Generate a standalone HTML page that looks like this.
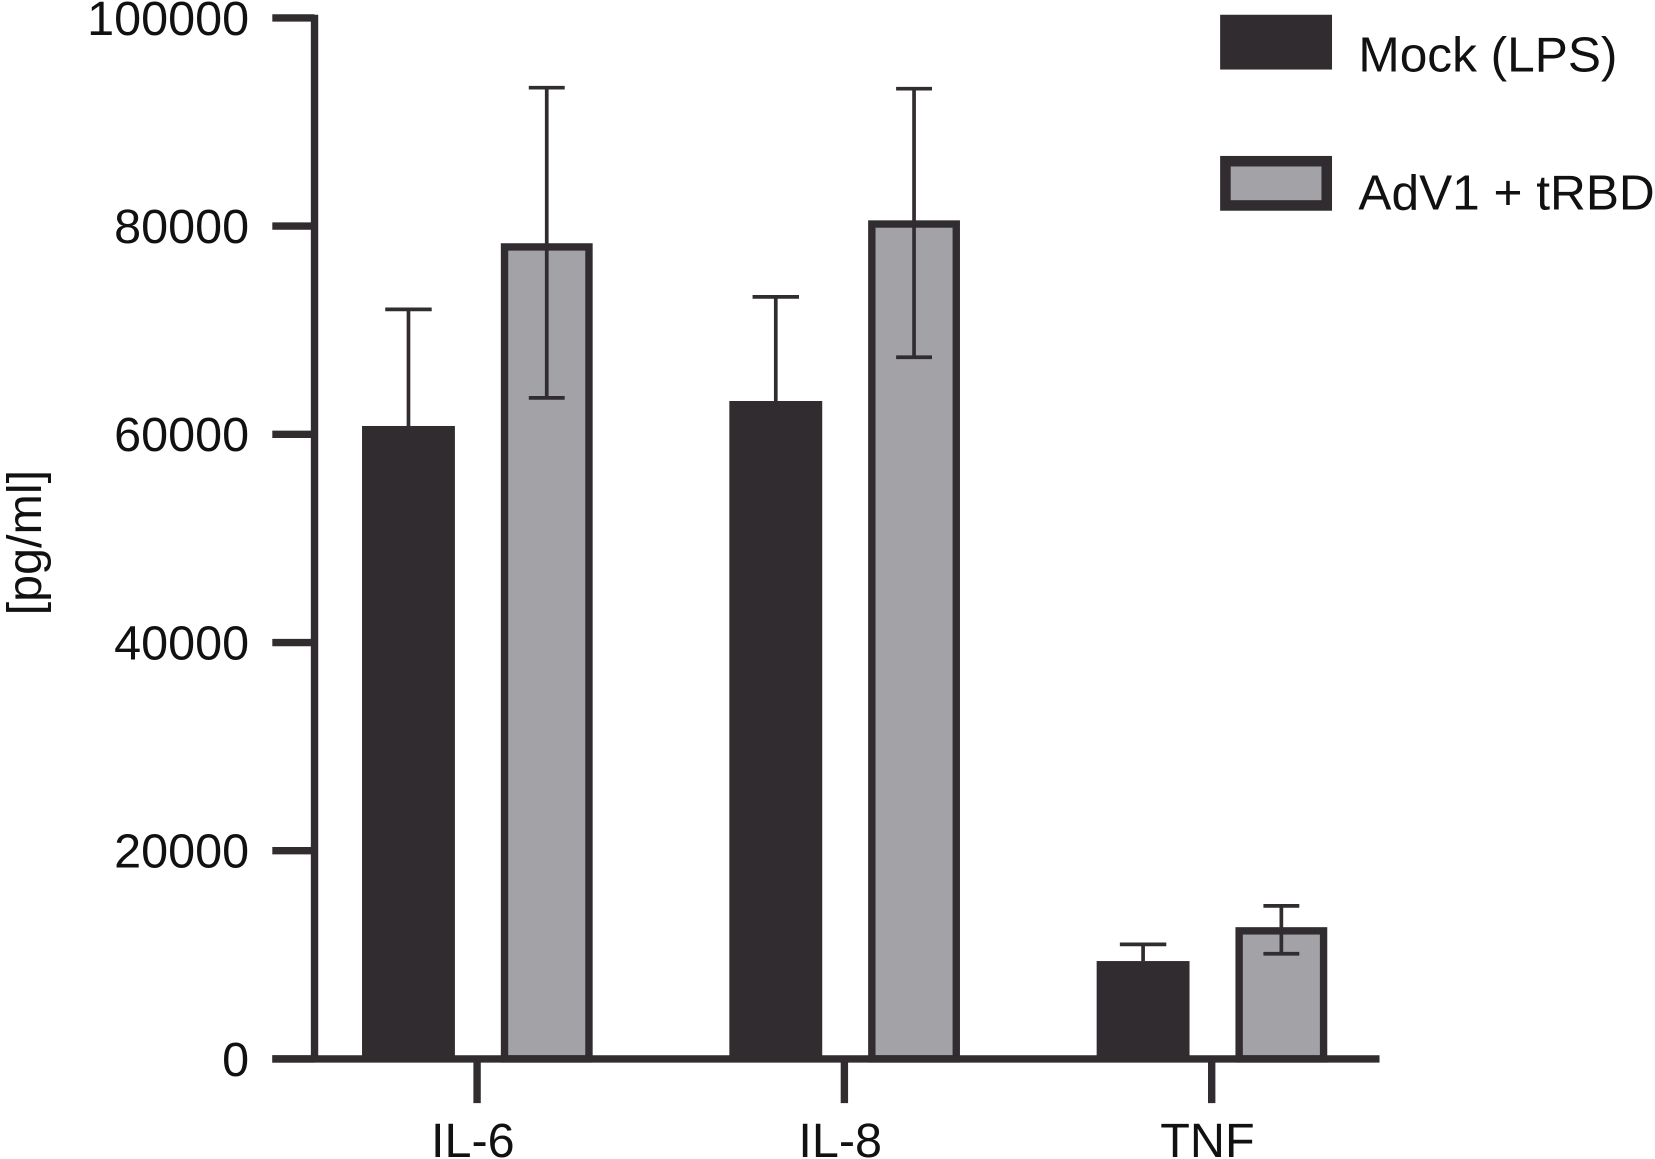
<!DOCTYPE html>
<html><head><meta charset="utf-8"><style>
html,body{margin:0;padding:0;background:#fff;}
svg{display:block;}
text{font-family:"Liberation Sans",Arial,sans-serif;fill:#111;}
</style></head><body>
<svg id="chart" width="1655" height="1159" viewBox="0 0 1568 1100" preserveAspectRatio="none" xmlns="http://www.w3.org/2000/svg">
<g id="plot"></g>
<g>
  <rect x="1156" y="14" width="106" height="52" fill="#302c2f"/>
  <text x="1287" y="68" font-size="47">Mock (LPS)</text>
  <rect x="1161" y="153" width="96" height="42" fill="#a3a3a7" stroke="#302c2f" stroke-width="10"/>
  <text x="1287" y="199" font-size="47">AdV1 + tRBD</text>
</g>
<text transform="translate(39,515) rotate(-90)" text-anchor="middle" font-size="46">[pg/ml]</text>
</svg>
<script>
const categories = ["IL-6","IL-8","TNF"];
const mockValues = [60800,63200,9400];
const mockErrHi = [72000,73200,11000];
const advValues = [78000,80200,12300];
const advErrLo = [63500,67400,10100];
const advErrHi = [93300,93200,14700];
const yTicks = [0,20000,40000,60000,80000,100000];

const NS="http://www.w3.org/2000/svg";
const g=document.getElementById('plot');
const y0=1005, yTop=17, yMax=100000;
function y(v){return y0-(v/yMax)*(y0-yTop);}
const catX=[452,800,1148];
function xc(i){return catX[0]+i*(catX[1]-catX[0]);}
function el(tag,attrs){const e=document.createElementNS(NS,tag);for(const k in attrs)e.setAttribute(k,attrs[k]);g.appendChild(e);return e;}
const dark="#302c2f", gray="#a3a3a7";

categories.forEach((c,i)=>{
  const cx=xc(i);
  const mx=cx-109, mw=88;
  let r=el('rect',{x:mx,y:y(mockValues[i]),width:mw,height:y0-y(mockValues[i]),fill:dark});
  
  
  let l=el('line',{x1:mx+mw/2,x2:mx+mw/2,y1:y(mockValues[i]),y2:y(mockErrHi[i]),stroke:dark,'stroke-width':3.5});
  
  
  let cp=el('line',{x1:mx+mw/2-22,x2:mx+mw/2+22,y1:y(mockErrHi[i]),y2:y(mockErrHi[i]),stroke:dark,'stroke-width':3.5});
  
  
  const ax=cx+26, aw=80;
  let r2=el('rect',{x:ax,y:y(advValues[i]),width:aw,height:y0-y(advValues[i]),fill:gray,stroke:dark,'stroke-width':7});
  
  
  const ex=ax+aw/2;
  let l2=el('line',{x1:ex,x2:ex,y1:y(advErrLo[i]),y2:y(advErrHi[i]),stroke:dark,'stroke-width':3.5});
  
  
  [advErrLo[i],advErrHi[i]].forEach(v=>{
    let c2=el('line',{x1:ex-17,x2:ex+17,y1:y(v),y2:y(v),stroke:dark,'stroke-width':3.5});
    
    
  });
  let t=el('line',{x1:cx,x2:cx,y1:y0,y2:1047,stroke:dark,'stroke-width':7});
  
  
  let tl=el('text',{x:cx-4,y:1098,'text-anchor':'middle','font-size':46});
  tl.textContent=c;
  
  
});

yTicks.forEach(v=>{
  let t=el('line',{x1:258,x2:298,y1:y(v),y2:y(v),stroke:dark,'stroke-width':7});
  
  
  let tl=el('text',{x:236,y:y(v)+16,'text-anchor':'end','font-size':46});
  tl.textContent=String(v);
  
  
});
let ya=el('line',{x1:298,x2:298,y1:yTop-3,y2:y0+3,stroke:dark,'stroke-width':7});


let xa=el('line',{x1:258,x2:1307,y1:y0,y2:y0,stroke:dark,'stroke-width':7});


</script>
</body></html>
